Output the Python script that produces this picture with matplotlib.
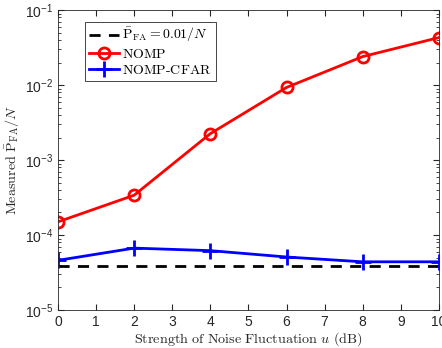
import matplotlib
matplotlib.use("Agg")
import matplotlib.pyplot as plt
import numpy as np

# data
u_db = [0, 2, 4, 6, 8, 10]
nomp = [1.5e-4, 3.4e-4, 2.25e-3, 9.3e-3, 2.4e-2, 4.3e-2]
nomp_cfar = [4.6e-5, 6.7e-5, 6.2e-5, 5.1e-5, 4.4e-5, 4.4e-5]
target = 0.01 / 256

plt.rcParams['mathtext.fontset'] = 'cm'
plt.rcParams['font.family'] = ['Liberation Sans', 'DejaVu Sans']
ax_col = '0.15'

fig = plt.figure(figsize=(4.42, 3.48), dpi=100)
ax = fig.add_axes([0.131, 0.109, 0.862, 0.862])

ax.plot([0, 10], [target, target], 'k--', lw=2, dashes=(4, 3),
        label=r'$\bar{\mathrm{P}}_{\mathrm{FA}}=0.01/N$')
ax.plot(u_db, nomp, '-o', color='red', lw=2, ms=8, mfc='none', mew=2,
        label=r'$\mathrm{NOMP}$')
ax.plot(u_db, nomp_cfar, '-+', color='blue', lw=2, ms=11, mew=2,
        label=r'$\mathrm{NOMP\text{-}CFAR}$')

ax.set_yscale('log')
ax.set_xlim(0, 10)
ax.set_ylim(1e-5, 1e-1)
ax.set_xticks(range(11))
ax.tick_params(which='both', direction='in', top=True, right=True,
               colors=ax_col, labelsize=10)
ax.tick_params(which='major', length=4)
ax.tick_params(which='minor', length=2.5)
for s in ax.spines.values():
    s.set_color(ax_col)
    s.set_linewidth(0.6)

ax.set_xlabel(r'$\mathrm{Strength\ of\ Noise\ Fluctuation}\ u\ \mathrm{(dB)}$',
              fontsize=10.2, color=ax_col, labelpad=1)
ax.set_ylabel(r'$\mathrm{Measured}\ \bar{\mathrm{P}}_{\mathrm{FA}}/N$',
              fontsize=10.2, color=ax_col, labelpad=2)

leg = ax.legend(loc='upper left', bbox_to_anchor=(0.07, 0.96), fontsize=10,
                fancybox=False, edgecolor=ax_col, framealpha=1,
                handlelength=2.2, handletextpad=0.2, borderpad=0.3,
                labelspacing=0.15, borderaxespad=0)
leg.get_frame().set_linewidth(0.6)

fig.savefig('out.png', dpi=100)
